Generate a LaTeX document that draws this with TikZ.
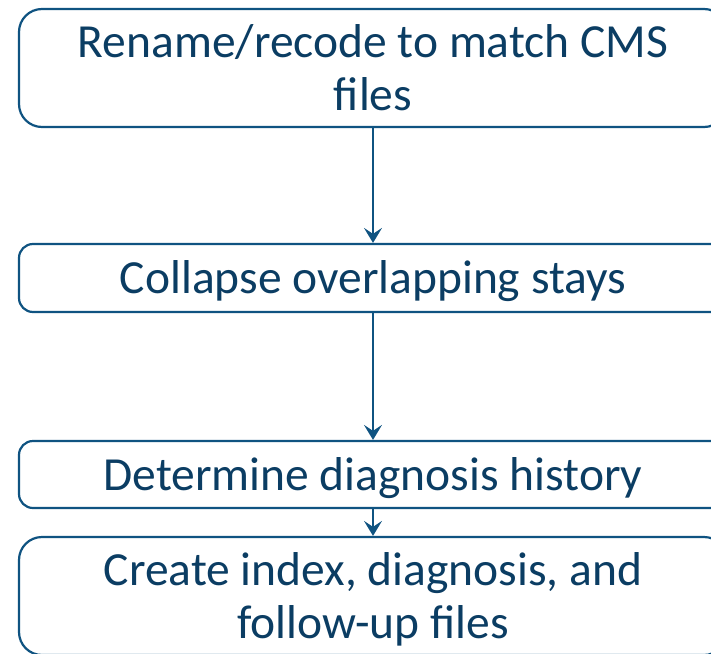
\documentclass[tikz,border=0pt]{standalone}
\usepackage{fontspec}
\setmainfont{Carlito}
\usetikzlibrary{arrows.meta}
\definecolor{flowline}{HTML}{0F5381}
\definecolor{flowtext}{HTML}{0B3D63}
\tikzset{
  stepbox/.style={draw=flowline, line width=2.2pt, fill=white,
    minimum width=708pt, inner sep=0pt, align=center, text=flowtext,
    font=\fontsize{47.5}{53}\selectfont},
  oneline/.style={text height=33pt, text depth=2pt},
  flowarrow/.style={draw=flowline, line width=2.2pt,
    -{Stealth[length=15pt, width=18pt, inset=6pt]}}
}
% two-line labels sit a few points below the box centre
\newcommand{\twolines}[2]{\raisebox{-5pt}[\height][\depth]{\begin{tabular}{@{}c@{}}#1\\#2\end{tabular}}}
\begin{document}
\begin{tikzpicture}[x=1pt, y=-1pt]
  \useasboundingbox (0,0) rectangle (711,653);
  \node[stepbox, minimum height=118pt, rounded corners=23pt] (rename) at (373,68)
    {\twolines{Rename/recode to match CMS}{files}};
  \node[stepbox, oneline, minimum height=68pt, rounded corners=14pt] (collapse) at (373,278)
    {Collapse overlapping stays};
  \node[stepbox, oneline, minimum height=67pt, rounded corners=14pt] (history) at (373,474.5)
    {Determine diagnosis history};
  \node[stepbox, minimum height=118pt, rounded corners=23pt] (create) at (373,596)
    {\twolines{Create index, diagnosis, and}{follow-up files}};
  \draw[flowarrow] (rename) -- (collapse);
  \draw[flowarrow] (collapse) -- (history);
  \draw[flowarrow] (history) -- (create);
\end{tikzpicture}
\end{document}
